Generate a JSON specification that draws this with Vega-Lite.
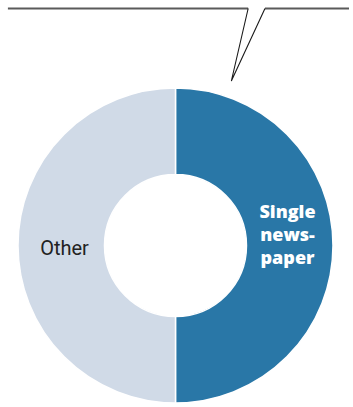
{
  "$schema": "https://vega.github.io/schema/vega-lite/v6.json",
  "width": 353,
  "height": 407,
  "autosize": {"type": "fit", "contains": "padding"},
  "padding": 0,
  "background": "white",
  "config": {"view": {"stroke": null}},
  "datasets": {
    "slices": [
      {"category": "Single newspaper", "value": 50, "order": 1},
      {"category": "Other", "value": 50, "order": 2}
    ],
    "callout": [
      {"segment": "left", "i": 1, "px": 8, "py": 8.5},
      {"segment": "left", "i": 2, "px": 251, "py": 8.5},
      {"segment": "pointer", "i": 1, "px": 251, "py": 8.5},
      {"segment": "pointer", "i": 2, "px": 234, "py": 81},
      {"segment": "pointer", "i": 3, "px": 268, "py": 8.5},
      {"segment": "right", "i": 1, "px": 268, "py": 8.5},
      {"segment": "right", "i": 2, "px": 353, "py": 8.5}
    ]
  },
  "layer": [
    {
      "data": {"name": "callout"},
      "transform": [{"filter": "datum.segment !== 'pointer'"}],
      "mark": {"type": "line", "color": "#5a5a5a", "strokeWidth": 2},
      "encoding": {
        "x": {"field": "px", "type": "quantitative", "scale": {"domain": [0, 353], "nice": false, "zero": false}, "axis": null},
        "y": {"field": "py", "type": "quantitative", "scale": {"domain": [0, 407], "nice": false, "zero": false, "reverse": true}, "axis": null},
        "detail": {"field": "segment"},
        "order": {"field": "i"}
      }
    },
    {
      "data": {"name": "callout"},
      "transform": [{"filter": "datum.segment === 'pointer'"}],
      "mark": {"type": "line", "color": "#1a1a1a", "strokeWidth": 1.1},
      "encoding": {
        "x": {"field": "px", "type": "quantitative"},
        "y": {"field": "py", "type": "quantitative"},
        "order": {"field": "i"}
      }
    },
    {
      "data": {"name": "slices"},
      "mark": {"type": "arc", "outerRadius": 157.5, "innerRadius": 71, "stroke": "white", "strokeWidth": 1.5},
      "encoding": {
        "x": {"datum": 177.5, "type": "quantitative"},
        "y": {"datum": 245.5, "type": "quantitative"},
        "theta": {"field": "value", "type": "quantitative", "stack": true, "scale": {"domain": [0, 100]}},
        "order": {"field": "order"},
        "color": {"field": "category", "type": "nominal", "scale": {"domain": ["Single newspaper", "Other"], "range": ["#2977a7", "#d0dae7"]}, "legend": null}
      }
    },
    {
      "data": {"name": "slices"},
      "transform": [
        {"stack": "value", "groupby": [], "sort": [{"field": "order"}], "as": ["v0", "v1"]},
        {"calculate": "(datum.v0 + datum.v1) / 2", "as": "mid"},
        {"calculate": "datum.category === 'Other' ? ['Other'] : ['Single', 'news-', 'paper']", "as": "label"}
      ],
      "layer": [
        {
          "transform": [{"filter": "datum.category === 'Single newspaper'"}],
          "mark": {"type": "text", "radius": 112, "font": "Open Sans", "fontWeight": 800, "fontSize": 18, "lineHeight": 23, "color": "white", "dy": -33},
          "encoding": {
            "x": {"datum": 177.5, "type": "quantitative"},
            "y": {"datum": 245.5, "type": "quantitative"},
            "theta": {"field": "mid", "type": "quantitative"},
            "text": {"field": "label"}
          }
        },
        {
          "transform": [{"filter": "datum.category === 'Other'"}],
          "mark": {"type": "text", "radius": 111, "font": "Roboto", "fontSize": 20, "color": "#222222", "dy": 3},
          "encoding": {
            "x": {"datum": 177.5, "type": "quantitative"},
            "y": {"datum": 245.5, "type": "quantitative"},
            "theta": {"field": "mid", "type": "quantitative"},
            "text": {"field": "label"}
          }
        }
      ]
    }
  ]
}
